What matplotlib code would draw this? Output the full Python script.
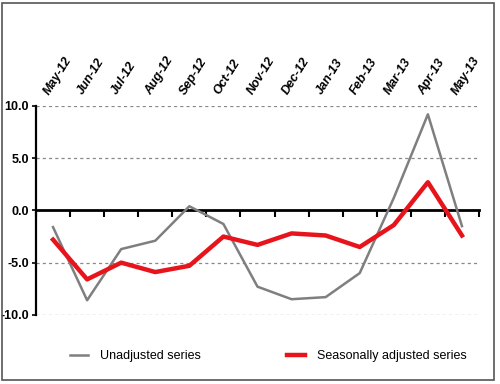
import matplotlib
matplotlib.use("Agg")
import matplotlib.pyplot as plt
from matplotlib.patches import Rectangle
import numpy as np

months = ["May-12", "Jun-12", "Jul-12", "Aug-12", "Sep-12", "Oct-12", "Nov-12",
          "Dec-12", "Jan-13", "Feb-13", "Mar-13", "Apr-13", "May-13"]
unadjusted = [-1.6, -8.6, -3.7, -2.9, 0.4, -1.3, -7.3, -8.5, -8.3, -6.0, 1.2, 9.2, -1.5]
seasonal = [-2.8, -6.6, -5.0, -5.9, -5.3, -2.5, -3.3, -2.2, -2.4, -3.5, -1.4, 2.7, -2.4]
yticks = [-10.0, -5.0, 0.0, 5.0, 10.0]

plt.rcParams['font.family'] = ['DejaVu Sans Condensed', 'Liberation Sans', 'DejaVu Sans']

fig = plt.figure(figsize=(5.0, 3.84), dpi=100)
ax = fig.add_axes([0.072, 0.18, 0.886, 0.544])

x = np.arange(len(months))
h1, = ax.plot(x, unadjusted, color='#7f7f7f', lw=1.8, label='Unadjusted series', zorder=3)
h2, = ax.plot(x, seasonal, color='#e8141c', lw=3.2, label='Seasonally adjusted series', zorder=4)

ax.set_xlim(-0.5, len(months) - 0.5)
ax.set_ylim(-10, 10)

for yv in [-10, -5, 5, 10]:
    ax.axhline(yv, color='#888888', lw=0.9, ls=(0, (2.5, 2.5)), zorder=1)

for s in ['top', 'right']:
    ax.spines[s].set_visible(False)
ax.spines['left'].set_linewidth(1.6)
ax.spines['bottom'].set_position(('data', 0))
ax.spines['bottom'].set_linewidth(2.0)

ax.set_yticks(yticks)
ax.set_yticklabels([f"{v:.1f}" for v in yticks], fontsize=9, fontweight='bold')
ax.tick_params(axis='y', length=3, width=1.2, pad=2)

ax.set_xticks(x)
ax.set_xticks(np.arange(len(months) + 1) - 0.5, minor=True)
ax.tick_params(axis='x', which='major', length=0, labelbottom=False)
ax.tick_params(axis='x', which='minor', length=5, width=1.5, direction='out')

for xi, m in zip(x, months):
    ax.text(xi - 0.05, 10.9, m, rotation=58, ha='left', va='bottom',
            rotation_mode='anchor', fontsize=9, fontweight='bold', fontstyle='italic',
            transform=ax.transData, clip_on=False)

leg1 = fig.legend(handles=[h1], loc='center left', bbox_to_anchor=(0.14, 0.073),
                  frameon=False, fontsize=9, handlelength=1.4, handletextpad=1.0,
                  borderpad=0, borderaxespad=0)
leg2 = fig.legend(handles=[h2], loc='center left', bbox_to_anchor=(0.574, 0.073),
                  frameon=False, fontsize=9, handlelength=1.4, handletextpad=1.0,
                  borderpad=0, borderaxespad=0)

fig.patches.append(Rectangle((0.004, 0.01), 0.983, 0.982, transform=fig.transFigure,
                             fill=False, edgecolor='#555555', lw=1.2))

fig.savefig("out.png", dpi=100)
